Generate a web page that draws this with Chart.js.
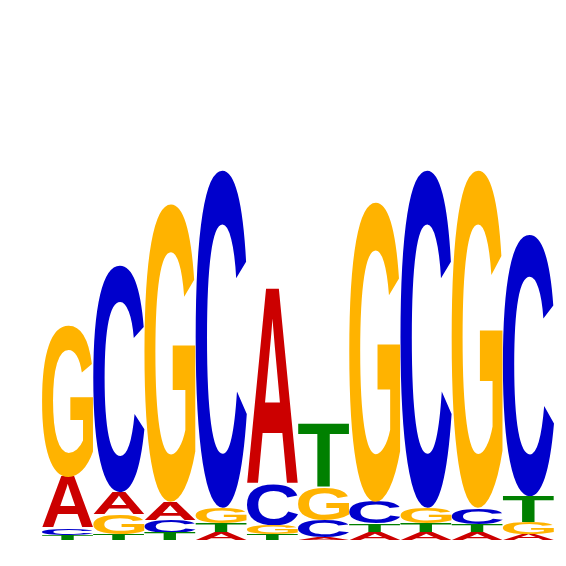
<!DOCTYPE html>
<html>
<head>
<meta charset="utf-8">
<script src="https://cdn.jsdelivr.net/npm/chart.js@4/dist/chart.umd.min.js"></script>
<style>
  html, body { margin: 0; padding: 0; background: #fff; }
  #wrap { width: 566px; height: 566px; }
</style>
</head>
<body>
<div id="wrap"><canvas id="logo"></canvas></div>
<script>
// positions of the motif
const positions = ['1', '2', '3', '4', '5', '6', '7', '8', '9', '10'];

// letter heights in bits
const heightA = [0.189, 0.081, 0.067, 0.030, 0.726, 0.011, 0.030, 0.030, 0.030, 0.022];
const heightC = [0.026, 0.841, 0.048, 1.252, 0.152, 0.063, 0.081, 1.252, 0.059, 0.970];
const heightG = [0.563, 0.074, 1.104, 0.056, 0.033, 0.122, 1.111, 0.056, 1.252, 0.044];
const heightT = [0.019, 0.022, 0.026, 0.033, 0.022, 0.233, 0.030, 0.033, 0.030, 0.096];

const letters = ['A', 'C', 'G', 'T'];
const letterColors = { A: '#CC0000', C: '#0000CC', G: '#FFB300', T: '#008000' };
const yMax = 2;

// stack each column smallest letter at the bottom -> floating bars [lo, hi]
function buildStacks() {
    const byLetter = { A: heightA, C: heightC, G: heightG, T: heightT };
    const ranges = { A: [], C: [], G: [], T: [] };
    positions.forEach((p, i) => {
        let order = letters.slice().sort((a, b) => byLetter[a][i] - byLetter[b][i]);
        let base = 0;
        order.forEach((l) => {
            ranges[l].push([base, base + byLetter[l][i]]);
            base += byLetter[l][i];
        });
    });
    return ranges;
}

const ranges = buildStacks();

// draws each letter stretched to fill its bar rectangle
const letterPlugin = {
    id: 'letters',
    afterDatasetsDraw(chart) {
        const ctx = chart.ctx;
        ctx.save();
        ctx.font = 'bold 200px "Liberation Sans", Arial, sans-serif';
        ctx.textBaseline = 'alphabetic';
        ctx.textAlign = 'left';
        chart.data.datasets.forEach((ds, di) => {
            const meta = chart.getDatasetMeta(di);
            const ch = ds.label;
            const m = ctx.measureText(ch);
            const gw = m.actualBoundingBoxLeft + m.actualBoundingBoxRight;
            const gh = m.actualBoundingBoxAscent + m.actualBoundingBoxDescent;
            meta.data.forEach((bar) => {
                const p = bar.getProps(['x', 'y', 'base', 'width'], true);
                const top = Math.min(p.y, p.base);
                const h = Math.abs(p.base - p.y);
                if (h < 0.5) return;
                const left = p.x - p.width / 2;
                ctx.save();
                ctx.translate(left, top);
                ctx.scale(p.width / gw, h / gh);
                ctx.fillStyle = letterColors[ch];
                ctx.fillText(ch, m.actualBoundingBoxLeft, m.actualBoundingBoxAscent);
                ctx.restore();
            });
        });
        ctx.restore();
    }
};

new Chart(document.getElementById('logo'), {
    type: 'bar',
    data: {
        labels: positions,
        datasets: letters.map((l) => ({
            label: l,
            data: ranges[l],
            backgroundColor: 'rgba(0,0,0,0)',
            borderWidth: 0,
            barPercentage: 1,
            categoryPercentage: 1,
            grouped: false
        }))
    },
    options: {
        responsive: true,
        maintainAspectRatio: false,
        animation: false,
        layout: { padding: { left: 42, right: 12, top: 0, bottom: 26 } },
        plugins: { legend: { display: false }, tooltip: { enabled: false } },
        scales: {
            x: { display: false },
            y: { display: false, min: 0, max: yMax }
        }
    },
    plugins: [letterPlugin]
});
</script>
</body>
</html>
